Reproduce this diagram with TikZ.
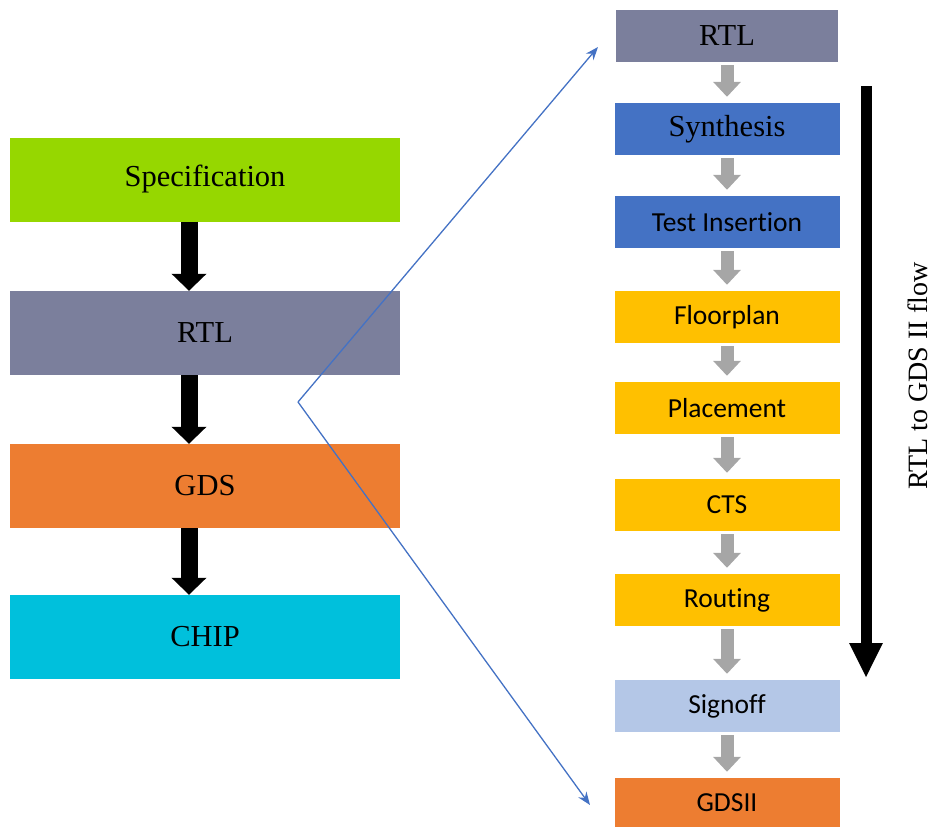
\documentclass[tikz,border=0pt]{standalone}
\usepackage{fontspec}
\setmainfont{Liberation Serif}
\newfontfamily\calib[Ligatures={NoCommon}]{Carlito}
\usetikzlibrary{arrows.meta}
\definecolor{specgreen}{HTML}{96D700}
\definecolor{rtlgray}{HTML}{7B7F9C}
\definecolor{gdsorange}{HTML}{ED7D31}
\definecolor{chipcyan}{HTML}{00C0DC}
\definecolor{synblue}{HTML}{4472C4}
\definecolor{flyellow}{HTML}{FFC000}
\definecolor{signblue}{HTML}{B4C7E7}
\definecolor{arrgray}{HTML}{A6A6A6}
\definecolor{linkblue}{HTML}{4472C4}
\begin{document}
\begin{tikzpicture}[x=1pt,y=-1pt,
  lbox/.style={minimum width=390pt,minimum height=84pt,inner sep=0pt,font=\fontsize{30.5}{33}\selectfont},
  rbox/.style={minimum width=225pt,minimum height=52pt,inner sep=0pt},
  serifbox/.style={rbox,font=\fontsize{30.5}{33}\selectfont},
  sansbox/.style={rbox,font=\calib\fontsize{27.5}{30}\selectfont},
  bigarr/.style={line width=17pt,-{Triangle[width=34pt,length=17pt]}},
  grayarr/.style={arrgray,line width=13pt,-{Triangle[width=27pt,length=15pt]}},
  link/.style={linkblue,line width=1.3pt,-{Stealth[length=13pt,width=10pt]}}]
\useasboundingbox (0,0) rectangle (935,827);
% left column
\node[lbox,fill=specgreen] (spec) at (205,179.5) {Specification};
\node[lbox,fill=rtlgray] (rtl) at (205,333) {RTL};
\node[lbox,fill=gdsorange] (gds) at (205,486) {GDS};
\node[lbox,fill=chipcyan] (chip) at (205,637) {CHIP};
\draw[bigarr] ([xshift=-16pt]spec.south) -- ([xshift=-16pt]rtl.north);
\draw[bigarr] ([xshift=-16pt]rtl.south) -- ([xshift=-16pt]gds.north);
\draw[bigarr] ([xshift=-16pt]gds.south) -- ([xshift=-16pt]chip.north);
% right column
\node[serifbox,fill=rtlgray,minimum width=222pt] (r1) at (727,36) {RTL};
\node[serifbox,fill=synblue] (r2) at (727,129) {Synthesis};
\node[sansbox,fill=synblue] (r3) at (727,222) {Test Insertion};
\node[sansbox,fill=flyellow] (r4) at (727,317) {Floorplan};
\node[sansbox,fill=flyellow] (r5) at (727,408) {Placement};
\node[sansbox,fill=flyellow] (r6) at (727,505) {CTS};
\node[sansbox,fill=flyellow] (r7) at (727,600) {Routing};
\node[sansbox,fill=signblue] (r8) at (727,706) {Signoff};
\node[sansbox,fill=gdsorange,minimum height=50pt] (r9) at (727,803) {GDSII};
\foreach \a/\b in {r1/r2,r2/r3,r3/r4,r4/r5,r5/r6,r6/r7,r7/r8,r8/r9}{
  \draw[grayarr,shorten <=3pt,shorten >=6pt] (\a.south) -- (\b.north);
}
% flow arrow
\coordinate (ftop) at (866,86);
\coordinate (fbot) at (866,678);
\draw[line width=11pt,-{Triangle[width=31pt,length=35pt]}] (ftop) -- (fbot);
\node[rotate=90,font=\fontsize{28}{32}\selectfont,inner sep=1pt] (flow) at (918,376) {RTL to GDS II flow};
% blue links
\coordinate (apex) at (298,402);
\coordinate (ltop) at (598,47);
\coordinate (lbot) at (590,805);
\draw[link] (apex) -- (ltop);
\draw[link] (apex) -- (lbot);
\end{tikzpicture}
\end{document}
